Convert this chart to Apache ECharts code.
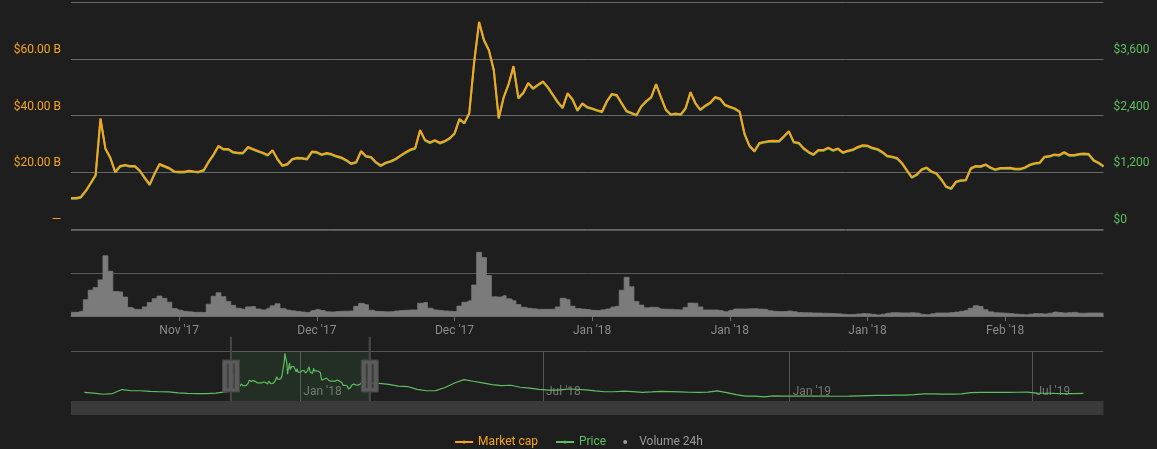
<!DOCTYPE html>
<html>
<head>
<meta charset="utf-8">
<script src="https://cdn.jsdelivr.net/npm/echarts@6/dist/echarts.min.js"></script>
<style>html,body{margin:0;padding:0;background:#1e1e1e}#chart{width:1157px;height:449px}</style>
</head>
<body>
<div id="chart"></div>
<script>
// ---- data ----
const windowStart = '2017-11-09T00:00:00Z';   // first sample of the detailed series
const windowStepHours = 12;                      // one sample every 12 hours
// Market cap, billions USD
const marketCap = [
 10.9,10.9,11.3,13.5,16.2,19.0,39.0,28.4,25.2,20.1,
 22.2,22.6,22.2,22.2,20.6,18.1,15.7,19.6,22.9,22.2,
 21.5,20.3,20.2,20.2,20.5,20.3,20.2,20.8,23.8,26.3,
 29.3,28.2,28.2,27.1,26.9,26.9,28.9,28.2,27.5,26.9,
 26.1,27.8,24.7,22.4,22.9,24.7,25.1,25.0,24.7,27.3,
 27.1,26.3,26.8,26.4,25.7,25.2,24.3,23.1,23.6,27.5,
 25.7,25.4,23.6,22.4,23.4,23.9,24.7,25.9,27.0,28.0,
 28.5,34.9,31.4,30.5,31.3,30.4,31.0,32.0,33.7,38.8,
 37.4,40.9,58.9,73.0,66.6,63.1,56.0,39.1,46.5,51.1,
 57.4,46.2,48.1,51.5,49.6,50.9,52.0,50.0,47.4,44.8,
 42.8,47.9,45.8,41.9,44.3,43.0,42.5,41.9,41.4,45.1,
 47.6,47.2,44.4,41.6,40.9,40.2,43.3,45.1,46.5,51.1,
 46.5,42.1,40.4,40.7,40.4,42.6,48.3,44.4,42.1,43.5,
 44.5,46.5,46.0,43.8,43.1,42.5,41.4,33.5,29.4,27.5,
 30.3,30.7,31.0,31.1,31.0,32.7,34.5,30.7,30.4,28.5,
 27.2,26.3,27.8,27.8,28.7,27.8,28.4,27.0,27.6,28.0,
 28.9,29.5,29.4,28.6,28.2,27.2,25.8,25.5,25.0,23.3,
 20.8,18.3,19.2,21.0,21.7,20.3,19.7,17.6,15.0,14.3,
 16.7,17.2,17.3,21.4,22.2,22.1,22.8,21.7,21.0,21.5,
 21.5,21.6,21.2,21.2,21.7,22.7,23.2,23.4,25.5,25.7,
 26.3,26.1,27.1,26.1,26.1,26.4,26.6,26.4,24.3,23.4,
 22.2];
// Price, USD
const price = [
 639,641,662,795,957,1125,2325,1689,1497,1191,
 1317,1341,1317,1317,1221,1071,927,1161,1359,1317,
 1275,1203,1197,1197,1215,1203,1197,1233,1413,1563,
 1743,1677,1677,1611,1599,1599,1719,1677,1635,1599,
 1551,1653,1467,1329,1359,1467,1491,1485,1467,1623,
 1611,1563,1593,1569,1527,1497,1443,1371,1401,1635,
 1527,1509,1401,1329,1389,1419,1467,1539,1605,1665,
 1695,2079,1869,1815,1863,1809,1845,1905,2007,2313,
 2229,2439,3519,4365,3981,3771,3345,2331,2775,3051,
 3429,2757,2871,3075,2961,3039,3105,2985,2829,2673,
 2553,2859,2733,2499,2643,2565,2535,2499,2469,2691,
 2841,2817,2649,2481,2439,2397,2583,2691,2775,3051,
 2775,2511,2409,2427,2409,2541,2883,2649,2511,2595,
 2655,2775,2745,2613,2571,2535,2469,1995,1749,1635,
 1803,1827,1845,1851,1845,1947,2055,1827,1809,1695,
 1617,1563,1653,1653,1707,1653,1689,1605,1641,1665,
 1719,1755,1749,1701,1677,1617,1533,1515,1485,1383,
 1233,1083,1137,1245,1287,1203,1167,1041,885,843,
 987,1017,1023,1269,1317,1311,1353,1287,1245,1275,
 1275,1281,1257,1257,1287,1347,1377,1389,1515,1527,
 1563,1551,1611,1551,1551,1569,1581,1569,1443,1389,
 1317];
// Volume 24h, billions USD
const volume = [
 0.43,0.43,0.55,1.9,3.0,3.3,4.2,7.0,5.2,2.85,
 2.8,2.2,1.0,0.78,0.75,1.06,1.57,2.02,2.32,2.05,
 1.6,0.87,0.68,0.54,0.48,0.43,0.43,0.4,1.37,2.3,
 2.7,2.25,1.7,1.24,0.9,0.78,1.06,1.1,0.82,0.7,
 0.9,1.18,1.42,0.88,0.69,0.6,0.53,0.47,0.41,0.64,
 0.77,0.63,0.49,0.47,0.51,0.55,0.56,0.58,1.13,1.47,
 1.3,0.67,0.54,0.52,0.48,0.5,0.58,0.63,0.67,0.7,
 0.7,1.48,1.58,0.9,0.7,0.65,0.59,0.55,0.51,1.15,
 1.6,1.78,3.6,7.4,6.8,4.7,2.23,2.2,2.36,2.0,
 1.77,1.33,1.02,0.9,0.84,0.78,0.78,0.78,0.78,1.06,
 2.06,1.9,1.14,0.86,0.8,0.75,0.66,0.64,0.72,0.82,
 1.05,1.14,3.0,4.5,3.4,1.7,1.27,0.95,1.03,1.0,
 0.8,0.79,0.78,0.74,0.71,1.0,1.5,1.49,1.06,0.7,
 0.7,0.7,0.64,0.5,0.66,0.82,0.82,0.81,0.83,0.85,
 0.8,0.78,0.62,0.54,0.51,0.52,0.58,0.5,0.41,0.39,
 0.37,0.35,0.34,0.32,0.31,0.29,0.25,0.21,0.17,0.18,
 0.23,0.28,0.26,0.19,0.13,0.21,0.32,0.39,0.38,0.36,
 0.36,0.39,0.34,0.2,0.15,0.26,0.35,0.35,0.35,0.4,
 0.46,0.55,0.66,0.9,1.2,1.1,0.73,0.48,0.39,0.36,
 0.33,0.28,0.22,0.19,0.15,0.22,0.29,0.27,0.24,0.33,
 0.46,0.41,0.35,0.39,0.42,0.33,0.32,0.35,0.35,0.35,
 0.3];
// Weekly price outside the zoomed window (overview strip)
const previewBeforeStart = '2017-07-24T00:00:00Z';
const previewBefore = [549,480,363,431,823,706,706,647,608,588,500,451,421,421,480,598];
const previewAfterStart = '2018-03-01T00:00:00Z';
const previewAfter = [
 1431,1333,1166,1117,843, 706,715,1019,1460, 1800,1637,1480,1313,1215,
 1245,1049,970,843, 774,774,872,853, 794,696,608,608,666, 627,549,588,637,
 617,588,559,549, 578,696,529,333,186, 176,108,206,186, 186,186,186,186,176,
 167,186,206,225, 245,255,274,284, 333,402,392,382, 372,402,519,549,549,
 539,549,559,578, 480,461,441,431, 421,441];
const fullRange = ['2017-07-14T00:00:00Z', '2019-08-23T00:00:00Z'];
const zoomRange = ['2017-11-09T00:00:00Z', '2018-02-22T00:00:00Z'];
const tickOrigin = '2017-11-20T00:00:00Z';   // detail axis ticks every 14 days from here
const tickDays = 14;
const monthNames = ['Jan','Feb','Mar','Apr','May','Jun','Jul','Aug','Sep','Oct','Nov','Dec'];

// ---- build ----
const DAY = 864e5, HOUR = 36e5;
const t0 = Date.parse(windowStart);
const origin = Date.parse(tickOrigin);
const toDay = t => (t - origin) / DAY;
const times = marketCap.map((_, i) => t0 + i * windowStepHours * HOUR);
const mcapData = marketCap.map((v, i) => [toDay(times[i]), v]);
const priceData = price.map((v, i) => [toDay(times[i]), v]);
const volData = volume.map((v, i) => [toDay(times[i]), v]);
const weekly = (start, arr) => arr.map((v, i) => [Date.parse(start) + i * 7 * DAY, v]);
const previewData = weekly(previewBeforeStart, previewBefore)
  .concat(price.map((v, i) => [times[i], v]))
  .concat(weekly(previewAfterStart, previewAfter));
const fullMin = Date.parse(fullRange[0]), fullMax = Date.parse(fullRange[1]);
const fmtMonth = ms => { const d = new Date(ms); return monthNames[d.getUTCMonth()] + " '" + String(d.getUTCFullYear()).slice(2); };

const ORANGE = '#f7a51c', GREEN = '#5fbf5f', VOL = '#7b7b7b';
const HANDLE = 'path://M0,-39 M-8.5,-16 L8.5,-16 L8.5,16 L-8.5,16 Z M-3.6,-12 L-3.6,12 L-2.4,12 L-2.4,-12 Z M2.4,-12 L2.4,12 L3.6,12 L3.6,-12 Z M-0.6,-25 L0.6,-25 L0.6,-16 L-0.6,-16 Z M-0.6,16 L0.6,16 L0.6,39 L-0.6,39 Z';
const L = 71, W = 1032.5;

const chart = echarts.init(document.getElementById('chart'), null, {renderer: 'canvas'});
chart.setOption({
  backgroundColor: '#1e1e1e',
  useUTC: true,
  animation: false,
  textStyle: {fontFamily: 'Roboto', fontSize: 12},
  legend: {
    left: 'center', top: 431, itemWidth: 18, itemHeight: 4, itemGap: 17,
    textStyle: {fontSize: 12, fontFamily: 'Roboto'},
    data: [
      {name: 'Market cap', textStyle: {color: ORANGE}},
      {name: 'Price', textStyle: {color: GREEN}},
      {name: 'Volume 24h', icon: 'circle', itemStyle: {color: '#9a9a9a'}, textStyle: {color: '#9a9a9a'}}
    ]
  },
  grid: [
    {left: L, top: 2, width: W, height: 227},
    {left: L, top: 230, width: W, height: 86},
    {left: L, top: 351, width: W, height: 50},
    {left: L, top: 401, width: W, height: 14, show: true, backgroundColor: '#3a3a3a', borderWidth: 0}
  ],
  xAxis: [
    {type: 'value', gridIndex: 0, min: toDay(fullMin), max: toDay(fullMax), minInterval: tickDays, maxInterval: tickDays, show: false},
    {type: 'value', gridIndex: 1, min: toDay(fullMin), max: toDay(fullMax), minInterval: tickDays, maxInterval: tickDays,
     axisLine: {show: true, lineStyle: {color: '#6e6e6e'}},
     axisTick: {show: true, length: 5, lineStyle: {color: '#6e6e6e'}},
     splitLine: {show: false},
     axisLabel: {color: '#8a8a8a', fontSize: 12, margin: 9, showMinLabel: false, showMaxLabel: false,
                 formatter: v => fmtMonth(origin + v * DAY)}},
    {type: 'time', gridIndex: 2, min: fullMin, max: fullMax, minInterval: 185 * DAY,
     axisLine: {show: false}, axisTick: {show: false},
     splitLine: {show: true, showMinLine: false, showMaxLine: false, lineStyle: {color: '#555555'}},
     axisLabel: {inside: true, align: 'left', padding: [0, 0, 0, 3], margin: 3, color: '#777777', fontSize: 12,
                 showMinLabel: false, showMaxLabel: false, formatter: v => fmtMonth(v)}},
    {type: 'value', gridIndex: 3, min: 0, max: 1, show: false}
  ],
  yAxis: [
    {type: 'value', gridIndex: 0, position: 'left', min: 0, max: 80, interval: 20,
     axisLine: {show: false}, axisTick: {show: false},
     splitLine: {show: true, lineStyle: {color: '#666666'}},
     axisLabel: {color: ORANGE, margin: 10, verticalAlign: 'bottom', padding: [0, 0, 3, 0], showMaxLabel: false,
                 formatter: v => v === 0 ? '—' : '$' + v.toFixed(2) + ' B'}},
    {type: 'value', gridIndex: 0, position: 'right', min: 0, max: 4800, interval: 1200,
     axisLine: {show: false}, axisTick: {show: false}, splitLine: {show: false},
     axisLabel: {color: GREEN, margin: 10, verticalAlign: 'bottom', padding: [0, 0, 3, 0], showMaxLabel: false,
                 formatter: v => '$' + v.toLocaleString('en-US')}},
    {type: 'value', gridIndex: 1, min: 0, max: 10, interval: 5,
     axisLine: {show: false}, axisTick: {show: false}, axisLabel: {show: false},
     splitLine: {show: true, lineStyle: {color: '#5a5a5a'}}},
    {type: 'value', gridIndex: 2, min: -300, max: 4600, interval: 4900,
     axisLine: {show: false}, axisTick: {show: false}, axisLabel: {show: false},
     splitLine: {show: true, lineStyle: {color: ['rgba(0,0,0,0)', '#555555']}}},
    {type: 'value', gridIndex: 3, min: 0, max: 1, show: false}
  ],
  dataZoom: [{
    type: 'slider', xAxisIndex: [0, 1],
    startValue: toDay(Date.parse(zoomRange[0])), endValue: toDay(Date.parse(zoomRange[1])),
    left: L, top: 351, width: W, height: 50,
    showDetail: false, showDataShadow: false, brushSelect: false,
    backgroundColor: 'rgba(0,0,0,0)', borderColor: 'rgba(0,0,0,0)',
    fillerColor: 'rgba(76,175,80,0.12)',
    handleIcon: HANDLE, handleSize: '156%',
    handleStyle: {color: '#5b5b5b', borderColor: '#454545', borderWidth: 1},
    moveHandleSize: 14,
    moveHandleStyle: {color: '#3a3a3a', opacity: 1},
    emphasis: {handleStyle: {color: '#5b5b5b', borderColor: '#454545'}, moveHandleStyle: {color: '#3a3a3a', opacity: 1}}
  }],
  series: [
    {name: 'Price', type: 'line', xAxisIndex: 0, yAxisIndex: 1, data: priceData, symbol: 'none',
     lineStyle: {width: 2, color: GREEN}, itemStyle: {color: GREEN}, z: 2},
    {name: 'Market cap', type: 'line', xAxisIndex: 0, yAxisIndex: 0, data: mcapData, symbol: 'none',
     lineStyle: {width: 2, color: ORANGE}, itemStyle: {color: ORANGE}, z: 3},
    {name: 'Volume 24h', type: 'line', step: 'middle', xAxisIndex: 1, yAxisIndex: 2, data: volData, symbol: 'none',
     lineStyle: {width: 0.8, color: VOL}, itemStyle: {color: VOL}, areaStyle: {color: VOL, opacity: 1}, clip: true},
    {name: 'Price', type: 'line', xAxisIndex: 2, yAxisIndex: 3, data: previewData, symbol: 'none',
     lineStyle: {width: 1.2, color: GREEN}, itemStyle: {color: GREEN}, silent: true}
  ]
});
</script>
</body>
</html>
